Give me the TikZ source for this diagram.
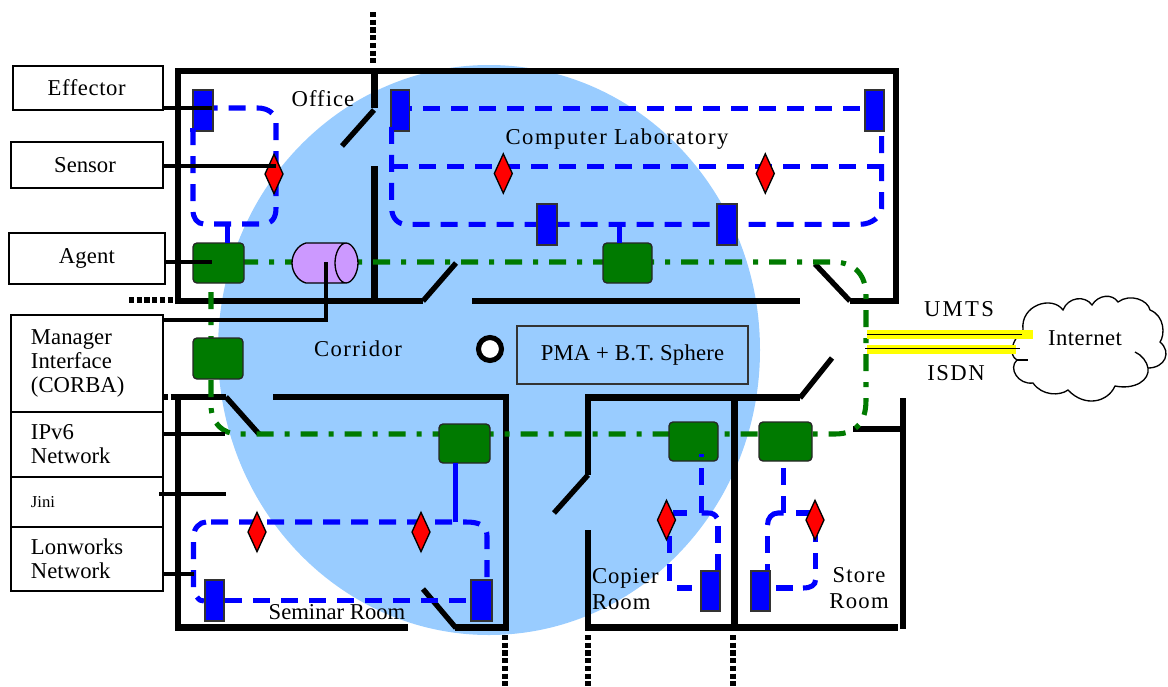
\documentclass[tikz,border=0pt]{standalone}
\usepackage{fontspec}
\setmainfont{Liberation Serif}
\usetikzlibrary{shapes.geometric}
\definecolor{sky}{HTML}{99CCFF}
\definecolor{gr}{HTML}{007A00}
\definecolor{bl}{HTML}{0000FF}
\definecolor{pur}{HTML}{CC99FF}
\definecolor{rd}{HTML}{FF0000}
\definecolor{ye}{HTML}{FFFF00}
\newcommand\pxn[7]{%
  \pgfmathsetmacro\pcx{(#3+#5)/2}\pgfmathsetmacro\pcy{(#4+#6)/2}%
  \pgfmathsetmacro\pw{(#5-#3)*0.75}\pgfmathsetmacro\ph{(#6-#4)*0.75}%
  \node[#2,minimum width=\pw pt,minimum height=\ph pt] (#1) at (\pcx,\pcy) {#7};}
\newcommand\tf[1]{\fontsize{17pt}{18pt}\selectfont\addfontfeature{LetterSpace=#1}}
\newcommand\tfb[1]{\fontsize{17pt}{20pt}\selectfont\addfontfeature{LetterSpace=#1}}
\tikzset{
  x=0.75pt,y=-0.75pt,
  wall/.style={line width=5pt,black},
  door/.style={line width=4pt,black},
  stub/.style={line width=3.4pt,black},
  dots/.style={line width=3.8pt,black,dash pattern=on 3.8pt off 2pt},
  sidebox/.style={draw=black,line width=1.1pt,fill=white,inner sep=0pt,outer sep=0pt,align=left},
  agentbox/.style={draw=black!85,line width=1pt,fill=gr,rounded corners=3pt,inner sep=0pt,outer sep=0pt},
  effbox/.style={draw=black!80,line width=.9pt,fill=bl,inner sep=0pt,outer sep=0pt},
  sensor/.style={diamond,draw=black,line width=1pt,fill=rd,aspect=.44,inner sep=0pt,outer sep=0pt,minimum width=13.5pt,minimum height=29.5pt},
  gline/.style={line width=3.8pt,gr,dash pattern=on 12.75pt off 8.25pt on 3.75pt off 8.25pt,dash phase=2.25pt},
  bline/.style={line width=3.8pt,bl,dash pattern=on 12.75pt off 8.25pt},
  bsolid/.style={line width=3.8pt,bl},
  lbl/.style={inner sep=0pt,outer sep=0pt,align=left},
}
\begin{document}
\begin{tikzpicture}
\useasboundingbox (0,0) rectangle (1168,686);
% coverage sphere
\fill[sky] (489,350) ellipse [x radius=271,y radius=285];
% walls
\draw[wall] (178,304) -- (178,71) -- (899,71);
\draw[wall] (896,68) -- (896,304);
\draw[wall] (175,301) -- (423,301);
\draw[door] (423,301) -- (456,263);
\draw[wall] (472,301) -- (800,301);
\draw[door] (815,264) -- (850,301);
\draw[wall] (850,301) -- (899,301);
\draw[wall] (374.5,71) -- (374.5,108);
\draw[door] (374,110) -- (342,146);
\draw[wall] (374.5,166) -- (374.5,301);
\draw[wall] (175,397) -- (226,397);
\draw[door] (226,397) -- (259,434);
\draw[wall] (273,397) -- (509,397);
\draw[wall] (178,394) -- (178,630);
\draw[wall] (175,627.5) -- (408,627.5);
\draw[door] (423,589) -- (456,628);
\draw[wall] (455,627.5) -- (509,627.5);
\draw[wall] (506,394) -- (506,631);
\draw[wall] (585,397.5) -- (800,397.5);
\draw[door] (800,398) -- (832,358);
\draw[wall] (588,397) -- (588,475);
\draw[door] (588,475) -- (554,513);
\draw[wall] (588,530) -- (588,630);
\draw[wall] (734.5,397) -- (734.5,630);
\draw[wall] (585,627.5) -- (898,627.5);
\draw[wall] (903,398) -- (903,629);
\draw[wall] (853,429) -- (903,429);
% dotted continuations
\draw[dots] (373,12) -- (373,66);
\draw[dots] (129,300) -- (176,300);
\draw[dots] (163,397) -- (176,397);
\draw[dots] (505,635) -- (505,686);
\draw[dots] (588,635) -- (588,686);
\draw[dots] (733,635) -- (733,686);
% green backbone
\draw[gline] (244,262) -- (835,262) .. controls (855,263) and (866,275) .. (866,296)
  -- (866,400) .. controls (866,420) and (858,434) .. (835,434)
  -- (238,434) .. controls (224,434) and (211,424) .. (211,405) -- (211,283);
% blue loops
\draw[bline] (193,128) -- (193,210) .. controls (193,218) and (197,224) .. (204,224)
  -- (262,224) .. controls (272,224) and (276,218) .. (276,208) -- (276,122)
  .. controls (276,114) and (268,108) .. (258,108) -- (212,108);
\draw[bline] (395,108.5) -- (862,108.5);
\draw[bline] (881.7,136) -- (881.7,208) .. controls (881.7,216) and (872,224.3) .. (860,224.3) -- (406,224.3)
  .. controls (398,224.3) and (391.7,218) .. (391.7,208) -- (391.7,126);
\draw[bline] (391,166.3) -- (884,166.3);
\draw[bline] (193.5,587) -- (193.5,537) .. controls (193.5,528) and (200,522) .. (206,522);
\draw[bline] (211,522) -- (466,522) .. controls (480,522) and (487,526) .. (487,536) -- (487,580);
\draw[bline] (225,600.5) -- (466,600.5);
\draw[bsolid] (197,597) .. controls (199,600) and (201,601) .. (204,601);
\draw[bline] (701.5,468) -- (701.5,513);
\draw[bsolid] (701.5,513) -- (708,513) .. controls (712,513) and (715,514) .. (717,518);
\draw[bline] (718,526) -- (718,571);
\draw[bsolid] (673,513) -- (687,513);
\draw[bline] (669.5,536) -- (669.5,581);
\draw[bsolid] (677,588) -- (692,588);
\draw[bline] (783.5,468) -- (783.5,513);
\draw[bsolid] (783.5,513) -- (778,513) .. controls (772,513) and (767.5,518) .. (767.5,525);
\draw[bline] (767.5,536) -- (767.5,571);
\draw[bsolid] (796,513) -- (810,513);
\draw[bline] (815.5,525) -- (815.5,569);
\draw[bsolid] (815.5,580) .. controls (815.5,585) and (811,588) .. (803,588);
\draw[bsolid] (776,588) -- (793,588);
% access points
\coordinate (sO) at (227.7,224);
\coordinate (sL) at (619.5,224);
\coordinate (sS) at (455.5,522);
\pxn{gO}{agentbox}{193}{243}{244}{283}{}
\pxn{gL}{agentbox}{603}{243}{652}{283}{}
\pxn{gC}{agentbox}{193}{338}{243}{379}{}
\pxn{gS}{agentbox}{439}{424}{490}{463}{}
\pxn{gP}{agentbox}{669}{422}{718}{461}{}
\pxn{gR}{agentbox}{759}{422}{812}{461}{}
\draw[bsolid] (sO) -- (sO |- gO.north);
\draw[bsolid] (sL) -- (sL |- gL.north);
\draw[bsolid] (sS) -- (sS |- gS.south);
\draw[bsolid] (701.5,454) -- (701.5,457);
% effectors
\pxn{e1}{effbox}{193}{90}{213}{131}{}
\pxn{e2}{effbox}{391}{90}{409.5}{131}{}
\pxn{e3}{effbox}{865}{90}{884}{131}{}
\pxn{e4}{effbox}{537}{204}{557}{245}{}
\pxn{e5}{effbox}{717}{204}{737}{245}{}
\pxn{e6}{effbox}{205}{580}{224}{621}{}
\pxn{e7}{effbox}{471}{580}{492}{621}{}
\pxn{e8}{effbox}{701}{571}{720}{611}{}
\pxn{e9}{effbox}{751}{571}{770}{611}{}
\draw[bsolid] (193,128) -- (193,132);
\draw[bsolid] (391.7,127) -- (391.7,132);
% sensors
\node[sensor] (d1) at (274,174) {};
\node[sensor] (d2) at (503.3,173.5) {};
\node[sensor] (d3) at (765.3,173.5) {};
\node[sensor] (d4) at (257,532) {};
\node[sensor] (d5) at (421,532) {};
\node[sensor] (d6) at (666.5,520) {};
\node[sensor] (d7) at (815,520) {};
% cylinder
\coordinate (cyl) at (326,262);
\draw[black,line width=1pt,fill=pur] (346,243) -- (306,243) .. controls (298,245) and (292,254) .. (292,263)
  .. controls (292,272) and (298,281) .. (306,283) -- (346,283)
  .. controls (352,283) and (358,273) .. (358,263) .. controls (358,253) and (352,243) .. (346,243)
  .. controls (340,243) and (335,253) .. (335,263) .. controls (335,273) and (340,283) .. (346,283);
% side boxes
\pxn{eff}{sidebox,align=center,font=\tf{2.7}}{13}{66}{163}{110}{\raisebox{-1.3pt}{Effector}\hspace{2pt}}
\pxn{sen}{sidebox,align=center,font=\tf{0}}{11}{142}{163}{188}{\raisebox{-.7pt}{Sensor}\hspace{3pt}}
\pxn{age}{sidebox,align=center,font=\tf{.7}}{9}{233}{165}{284}{\raisebox{-1.3pt}{Agent}}
\pxn{man}{sidebox,text width=84pt,font=\tf{.2}}{11}{315}{163}{412}{Manager\\Interface\\(CORBA)}
\pxn{ipv}{sidebox,text width=84pt,font=\tf{.2}}{11}{412}{163}{477}{IPv6\\Network}
\pxn{jin}{sidebox,text width=84pt,font=\fontsize{12.5pt}{14pt}\selectfont}{11}{477}{163}{527}{Jini}
\pxn{lon}{sidebox,text width=84pt,font=\tf{.2}}{11}{527}{163}{591}{Lonworks\\Network}
% side connectors
\coordinate (cE) at (212,108);
\coordinate (cS) at (276,166);
\coordinate (cA) at (212,262);
\coordinate (cI) at (225,434);
\coordinate (cJ) at (226,494);
\coordinate (cL) at (194,574);
\draw[stub] (eff.east |- cE) -- (cE);
\draw[stub] (sen.east |- cS) -- (cS);
\draw[stub] (age.east |- cA) -- (cA);
\draw[stub] (man.east |- 0,320) -- (326,320) -- (cyl);
\draw[stub] (ipv.east |- cI) -- (cI);
\draw[stub] (159,494) -- (cJ);
\draw[stub] (lon.east |- cL) -- (cL);
% location marker and PMA
\draw[black,line width=3.8pt,fill=white] (490,349) ellipse [radius=11.5];
\pxn{pma}{draw=black!80,line width=1pt,inner sep=0pt,outer sep=0pt,font=\tf{1}}{517}{326}{748}{384}{PMA + B.T. Sphere\hspace{6pt}}
% room labels
\node[lbl,font=\tf{4.5}] (office) at (323,99) {Office};
\node[lbl,font=\tf{6.1}] (corr) at (358,349) {Corridor};
\node[lbl,font=\tf{6.7}] (lab) at (617,139.5) {Computer Laboratory};
\node[lbl,font=\tf{0}] (sem) at (337,612) {Seminar Room};
\node[lbl,anchor=west,font=\tfb{4.4}] (cop) at (592,589) {Copier\\Room};
\node[lbl,align=center,font=\tfb{5.7}] (sto) at (859,588) {Store\\Room};
% cloud
\draw[black,line width=1pt,fill=white,line cap=round]
  (1023,330) .. controls (1020,305) and (1052,295) .. (1063,310)
  .. controls (1068,297) and (1085,295) .. (1092,305)
  .. controls (1098,295) and (1112,293) .. (1118,302)
  .. controls (1130,293) and (1148,300) .. (1150,310)
  .. controls (1165,316) and (1165,335) .. (1160,342)
  .. controls (1172,352) and (1165,368) .. (1148,368)
  .. controls (1150,380) and (1135,390) .. (1115,386)
  .. controls (1108,402) and (1085,408) .. (1068,390)
  .. controls (1060,396) and (1042,396) .. (1033,383)
  .. controls (1018,385) and (1008,368) .. (1017,360)
  .. controls (1008,355) and (1012,340) .. (1023,330);
\draw[black,line width=1pt] (1017,360) -- (1028,360);
\draw[black,line width=1pt] (1135,352) .. controls (1142,355) and (1147,362) .. (1148,368);
\node[lbl,font=\tf{2.1}] (inet) at (1085,338) {Internet};
% WAN links
\coordinate (lU) at (867,334.5);
\coordinate (lD) at (865,348.5);
\fill[ye] (867,330) rectangle (1033,339);
\fill[ye] (867,345) rectangle (1016,354);
\draw[black,line width=1.3pt] (lU) -- (1022,334.5);
\draw[black,line width=1.3pt] (lD) -- (1020,348.5);
\node[lbl,font=\tf{10}] (umts) at (959,309) {UMTS};
\node[lbl,font=\tf{6.5}] (isdn) at (956,373) {ISDN};
\end{tikzpicture}
\end{document}
